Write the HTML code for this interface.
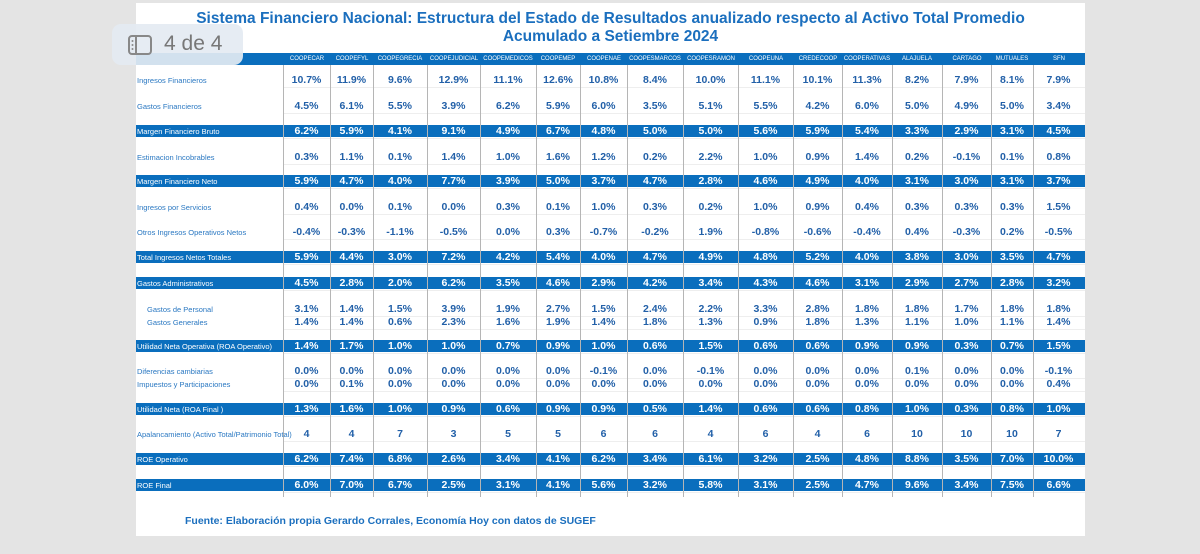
<!DOCTYPE html>
<html><head><meta charset="utf-8">
<style>
body{margin:0;width:1200px;height:554px;background:#e4e4e4;position:relative;overflow:hidden;font-family:"Liberation Sans",sans-serif}
#page{position:absolute;left:136px;top:3px;width:949px;height:533px;background:#fff}
.t{position:absolute;white-space:nowrap}
.title{color:#1b6fbe;font-weight:bold;font-size:15.5px;left:0;width:949px;text-align:center}
.band{position:absolute;left:136px;width:949px;height:12px;background:#0a6ebd}
.hdr{position:absolute;color:#fff;font-size:6.5px;line-height:10px;text-align:center;transform:translateX(-50%) scaleX(0.92);white-space:nowrap}
.lbl{position:absolute;color:#2a78c2;font-size:7.5px;line-height:10px;white-space:nowrap}
.val{position:absolute;font-weight:bold;font-size:10.5px;line-height:12px;text-align:center;width:50px;margin-left:-25px;color:#2260a8}
.vl{position:absolute;width:1px;background:#b5b5b5}
.hl{position:absolute;left:283px;width:802px;height:1px;background:#eeeeee}
#badge{position:absolute;left:112px;top:24px;width:131px;height:41px;border-radius:9px;background:rgba(228,234,242,0.92);color:#777;font-size:21px}
</style></head><body>
<div id="page">
<div class="t title" style="top:7px">Sistema Financiero Nacional: Estructura del Estado de Resultados anualizado respecto al Activo Total Promedio</div>
<div class="t title" style="top:25px">Acumulado a Setiembre 2024</div>
</div>
<div id="tbl"></div>
<div class="t" style="left:185px;top:515px;color:#1b6fbe;font-weight:bold;font-size:10.5px">Fuente: Elaboración propia Gerardo Corrales, Economía Hoy con datos de SUGEF</div>
<div id="badge">
<svg width="24" height="20" style="position:absolute;left:16px;top:11px"><rect x="1" y="1" width="22" height="18" rx="3" fill="none" stroke="#888" stroke-width="2"/><line x1="8" y1="1" x2="8" y2="19" stroke="#888" stroke-width="2"/><circle cx="4.5" cy="6" r="1" fill="#888"/><circle cx="4.5" cy="10" r="1" fill="#888"/><circle cx="4.5" cy="14" r="1" fill="#888"/></svg>
<span style="position:absolute;left:52px;top:8px">4 de 4</span></div>
<script>
const categories=["COOPECAR","COOPEFYL","COOPEGRECIA","COOPEJUDICIAL","COOPEMEDICOS","COOPEMEP","COOPENAE","COOPESMARCOS","COOPESRAMON","COOPEUNA","CREDECOOP","COOPERATIVAS","ALAJUELA","CARTAGO","MUTUALES","SFN"];
const rowLabels=["Ingresos Financieros","Gastos Financieros","Margen Financiero Bruto","Estimacion Incobrables","Margen Financiero Neto","Ingresos por Servicios","Otros Ingresos Operativos Netos","Total Ingresos Netos Totales","Gastos Administrativos","Gastos de Personal","Gastos Generales","Utilidad Neta Operativa (ROA Operativo)","Diferencias cambiarias","Impuestos y Participaciones","Utilidad Neta (ROA Final )","Apalancamiento (Activo Total/Patrimonio Total)","ROE Operativo","ROE Final"];
const rowHighlighted=[0,0,1,0,1,0,0,1,1,0,0,1,0,0,1,0,1,1];
const rowIndented=[0,0,0,0,0,0,0,0,0,1,1,0,0,0,0,0,0,0];
const rowIsRatio=[0,0,0,0,0,0,0,0,0,0,0,0,0,0,0,1,0,0];
const v0=[10.7,11.9,9.6,12.9,11.1,12.6,10.8,8.4,10.0,11.1,10.1,11.3,8.2,7.9,8.1,7.9];
const v1=[4.5,6.1,5.5,3.9,6.2,5.9,6.0,3.5,5.1,5.5,4.2,6.0,5.0,4.9,5.0,3.4];
const v2=[6.2,5.9,4.1,9.1,4.9,6.7,4.8,5.0,5.0,5.6,5.9,5.4,3.3,2.9,3.1,4.5];
const v3=[0.3,1.1,0.1,1.4,1.0,1.6,1.2,0.2,2.2,1.0,0.9,1.4,0.2,-0.1,0.1,0.8];
const v4=[5.9,4.7,4.0,7.7,3.9,5.0,3.7,4.7,2.8,4.6,4.9,4.0,3.1,3.0,3.1,3.7];
const v5=[0.4,0.0,0.1,0.0,0.3,0.1,1.0,0.3,0.2,1.0,0.9,0.4,0.3,0.3,0.3,1.5];
const v6=[-0.4,-0.3,-1.1,-0.5,0.0,0.3,-0.7,-0.2,1.9,-0.8,-0.6,-0.4,0.4,-0.3,0.2,-0.5];
const v7=[5.9,4.4,3.0,7.2,4.2,5.4,4.0,4.7,4.9,4.8,5.2,4.0,3.8,3.0,3.5,4.7];
const v8=[4.5,2.8,2.0,6.2,3.5,4.6,2.9,4.2,3.4,4.3,4.6,3.1,2.9,2.7,2.8,3.2];
const v9=[3.1,1.4,1.5,3.9,1.9,2.7,1.5,2.4,2.2,3.3,2.8,1.8,1.8,1.7,1.8,1.8];
const v10=[1.4,1.4,0.6,2.3,1.6,1.9,1.4,1.8,1.3,0.9,1.8,1.3,1.1,1.0,1.1,1.4];
const v11=[1.4,1.7,1.0,1.0,0.7,0.9,1.0,0.6,1.5,0.6,0.6,0.9,0.9,0.3,0.7,1.5];
const v12=[0.0,0.0,0.0,0.0,0.0,0.0,-0.1,0.0,-0.1,0.0,0.0,0.0,0.1,0.0,0.0,-0.1];
const v13=[0.0,0.1,0.0,0.0,0.0,0.0,0.0,0.0,0.0,0.0,0.0,0.0,0.0,0.0,0.0,0.4];
const v14=[1.3,1.6,1.0,0.9,0.6,0.9,0.9,0.5,1.4,0.6,0.6,0.8,1.0,0.3,0.8,1.0];
const v15=[4,4,7,3,5,5,6,6,4,6,4,6,10,10,10,7];
const v16=[6.2,7.4,6.8,2.6,3.4,4.1,6.2,3.4,6.1,3.2,2.5,4.8,8.8,3.5,7.0,10.0];
const v17=[6.0,7.0,6.7,2.5,3.1,4.1,5.6,3.2,5.8,3.1,2.5,4.7,9.6,3.4,7.5,6.6];
const values=[v0,v1,v2,v3,v4,v5,v6,v7,v8,v9,v10,v11,v12,v13,v14,v15,v16,v17];

const colEdges=[283,330,373,427,480,536,580,627,683,738,793,842,892,942,991,1033,1084];
const rowY=[80,106,131,157,181,207,232,257,283,309,322,346,371,384,409,434,459,485];
const T=document.getElementById('tbl');
function colX(i){return (colEdges[i]+colEdges[i+1])/2;}
function add(cls,css,txt){const d=document.createElement('div');d.className=cls;d.style.cssText=css;if(txt!==undefined)d.textContent=txt;T.appendChild(d);return d;}
let hb=add('band','top:53px');


categories.forEach((c,i)=>{
  const h=add('hdr','left:'+colX(i)+'px;top:54px',c);
  
  
});
rowY.forEach(y=>{
  const l=add('hl','top:'+(y+7)+'px');
  
  
});
rowY.forEach((y,r)=>{
  if(rowHighlighted[r]){
    const b=add('band','top:'+(y-6)+'px');
    
    
  }
});
colEdges.slice(0,-1).forEach(x=>{
  const l=add('vl','left:'+x+'px;top:65px;height:432px');
  
  
});
rowY.forEach((y,r)=>{
  const hl=rowHighlighted[r];
  const lb=add('lbl','left:'+(rowIndented[r]?147:137)+'px;top:'+(y-4)+'px;color:'+(hl?'#fff':'#2a78c2'),rowLabels[r]);
  
  
  values[r].forEach((v,i)=>{
    const txt=rowIsRatio[r]?String(v):v.toFixed(1)+'%';
    const d=add('val','left:'+colX(i)+'px;top:'+(y-6)+'px;color:'+(hl?'#fff':'#2260a8'),txt);
    
    
  });
});
</script>
</body></html>
